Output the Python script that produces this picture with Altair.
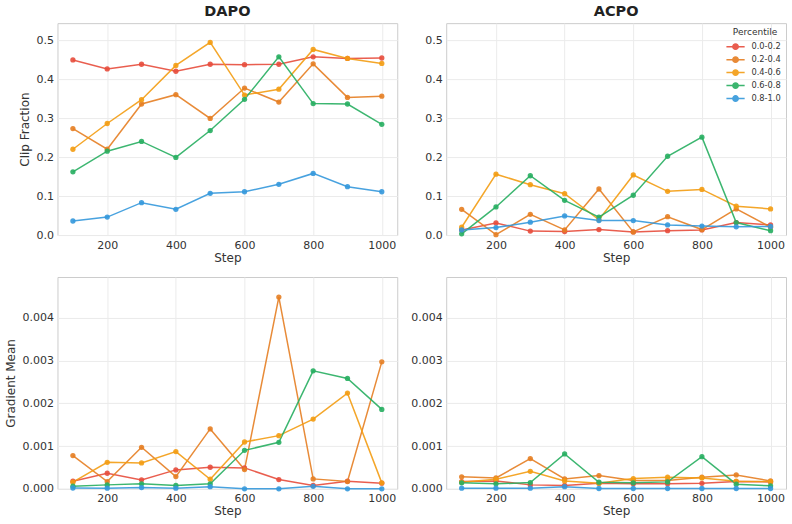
import altair as alt
import pandas as pd

# Training steps shared by every panel
steps = [100, 200, 300, 400, 500, 600, 700, 800, 900, 1000]

# Percentile buckets and their colours
percentiles = ["0.0-0.2", "0.2-0.4", "0.4-0.6", "0.6-0.8", "0.8-1.0"]
palette = ["#e74c3c", "#e67e22", "#f39c12", "#27ae60", "#3498db"]

# DAPO clip fraction per percentile bucket
dapo_clip = {
    "0.0-0.2": [0.449, 0.426, 0.438, 0.420, 0.438, 0.437, 0.438, 0.457, 0.453, 0.454],
    "0.2-0.4": [0.273, 0.220, 0.336, 0.360, 0.299, 0.377, 0.341, 0.439, 0.353, 0.356],
    "0.4-0.6": [0.220, 0.286, 0.347, 0.435, 0.494, 0.359, 0.374, 0.476, 0.453, 0.440],
    "0.6-0.8": [0.162, 0.215, 0.240, 0.199, 0.268, 0.348, 0.457, 0.337, 0.336, 0.284],
    "0.8-1.0": [0.036, 0.046, 0.083, 0.066, 0.107, 0.111, 0.130, 0.158, 0.124, 0.111],
}

# ACPO clip fraction per percentile bucket
acpo_clip = {
    "0.0-0.2": [0.013, 0.031, 0.010, 0.009, 0.014, 0.008, 0.011, 0.013, 0.032, 0.026],
    "0.2-0.4": [0.066, 0.001, 0.053, 0.013, 0.118, 0.008, 0.047, 0.014, 0.067, 0.020],
    "0.4-0.6": [0.020, 0.156, 0.129, 0.106, 0.039, 0.154, 0.112, 0.117, 0.074, 0.067],
    "0.6-0.8": [0.003, 0.072, 0.152, 0.089, 0.046, 0.102, 0.202, 0.251, 0.032, 0.011],
    "0.8-1.0": [0.013, 0.019, 0.033, 0.049, 0.037, 0.037, 0.026, 0.023, 0.021, 0.022],
}

# DAPO gradient mean per percentile bucket
dapo_grad = {
    "0.0-0.2": [0.000179, 0.000365, 0.000210, 0.000443, 0.000505, 0.000490, 0.000217, 0.000078, 0.000179, 0.000132],
    "0.2-0.4": [0.000777, 0.000171, 0.000971, 0.000287, 0.001400, 0.000450, 0.004480, 0.000233, 0.000171, 0.002967],
    "0.4-0.6": [0.000155, 0.000621, 0.000606, 0.000870, 0.000225, 0.001095, 0.001243, 0.001630, 0.002237, 0.000140],
    "0.6-0.8": [0.000062, 0.000093, 0.000117, 0.000078, 0.000117, 0.000900, 0.001087, 0.002757, 0.002579, 0.001856],
    "0.8-1.0": [0.000020, 0.000015, 0.000030, 0.000015, 0.000050, 0.000000, 0.000000, 0.000060, 0.000000, 0.000000],
}

# ACPO gradient mean per percentile bucket
acpo_grad = {
    "0.0-0.2": [0.000170, 0.000186, 0.000093, 0.000078, 0.000130, 0.000117, 0.000117, 0.000130, 0.000170, 0.000163],
    "0.2-0.4": [0.000280, 0.000256, 0.000707, 0.000233, 0.000310, 0.000194, 0.000194, 0.000272, 0.000326, 0.000186],
    "0.4-0.6": [0.000155, 0.000225, 0.000410, 0.000186, 0.000130, 0.000240, 0.000272, 0.000256, 0.000179, 0.000170],
    "0.6-0.8": [0.000140, 0.000117, 0.000148, 0.000816, 0.000155, 0.000140, 0.000163, 0.000753, 0.000109, 0.000070],
    "0.8-1.0": [0.000015, 0.000015, 0.000015, 0.000050, 0.000008, 0.000008, 0.000008, 0.000008, 0.000008, 0.000008],
}

clip_ticks = [0.0, 0.1, 0.2, 0.3, 0.4, 0.5]
grad_ticks = [0.0, 0.001, 0.002, 0.003, 0.004]
step_ticks = [200, 400, 600, 800, 1000]

FONT = "DejaVu Sans"
PW, PH = 340, 212

# Line segment with a dot in the middle, used as the legend glyph
LEGEND_GLYPH = (
    "M-1.6,0L1.6,0"
    "M-0.48,0A0.48,0.48,0,1,1,0.48,0A0.48,0.48,0,1,1,-0.48,0Z"
)


def to_long(series):
    rows = []
    for pct in percentiles:
        for s, v in zip(steps, series[pct]):
            rows.append({"step": s, "value": v, "pct": pct})
    return pd.DataFrame(rows)


def panel(series, ydomain, yticks, yfmt, ytitle=None, title=None, legend=False):
    df = to_long(series)
    x = alt.X(
        "step:Q",
        scale=alt.Scale(domain=[55, 1045], nice=False, zero=False),
        axis=alt.Axis(values=step_ticks, title="Step", format="d"),
    )
    y = alt.Y(
        "value:Q",
        scale=alt.Scale(domain=ydomain, nice=False, zero=False),
        axis=alt.Axis(values=yticks, format=yfmt, title=ytitle),
    )
    leg = None
    if legend:
        leg = alt.Legend(
            title="Percentile",
            orient="top-right",
            offset=3,
            symbolType=LEGEND_GLYPH,
            symbolSize=130,
            symbolStrokeWidth=1.5,
            symbolOpacity=0.9,
            labelFontSize=8.3,
            titleFontSize=9,
            titleFontWeight="normal",
            titleAnchor="middle",
            titleAlign="center",
            labelOffset=9.4,
            rowPadding=0,
            titlePadding=3,
            padding=2,
        )
    line = alt.Chart(df).mark_line(strokeWidth=1.5, opacity=0.9).encode(
        x=x, y=y,
        stroke=alt.Stroke("pct:N", scale=alt.Scale(domain=percentiles, range=palette), legend=leg),
        detail="pct:N",
    )
    dots = alt.Chart(df).mark_circle(size=28, opacity=0.9).encode(
        x=x, y=y,
        fill=alt.Fill("pct:N", scale=alt.Scale(domain=percentiles, range=palette), legend=leg),
    )
    props = dict(width=PW, height=PH)
    if title:
        props["title"] = alt.TitleParams(title, fontSize=14.5, fontWeight="bold", font=FONT,
                                         color="#222222", offset=4, anchor="middle")
    return alt.layer(line, dots).properties(**props)


clip_dom = [0.0, 0.5434]
grad_dom = [0.0, 0.00495]

chart = alt.concat(
    panel(dapo_clip, clip_dom, clip_ticks, ".1f", ytitle="Clip Fraction", title="DAPO"),
    panel(acpo_clip, clip_dom, clip_ticks, ".1f", title="ACPO", legend=True),
    panel(dapo_grad, grad_dom, grad_ticks, ".3f", ytitle="Gradient Mean"),
    panel(acpo_grad, grad_dom, grad_ticks, ".3f"),
    columns=2,
    spacing={"row": 42, "column": 49},
    bounds="flush",
).resolve_legend(
    stroke="independent", fill="independent"
).properties(
    padding={"left": 4.5, "top": 3, "right": 5, "bottom": 5},
    background="white",
).configure_view(
    stroke="#cccccc", strokeWidth=1
).configure_axis(
    labelFont=FONT, titleFont=FONT,
    labelFontSize=11, titleFontSize=12,
    labelColor="#333333", titleColor="#333333",
    titleFontWeight="normal",
    grid=True, gridColor="#ebebeb", gridWidth=1,
    domain=False, ticks=False,
).configure_axisX(
    labelPadding=4, titlePadding=2,
).configure_axisY(
    labelPadding=4, titlePadding=4,
).configure_legend(
    labelFont=FONT, titleFont=FONT, labelColor="#333333", titleColor="#333333",
)

chart.save("out.html", embed_options={"renderer": "svg", "actions": False})
